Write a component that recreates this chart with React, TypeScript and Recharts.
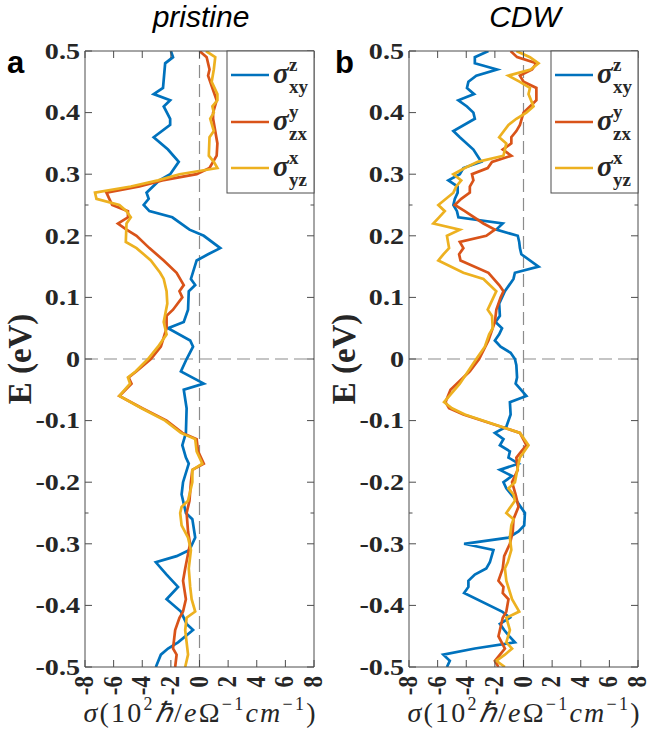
import React from 'react';
import { LineChart, Line, XAxis, YAxis, ReferenceLine } from 'recharts';

// ---------- data: [E (eV), sigma (10^2 hbar/e Ohm^-1 cm^-1)] ----------
const pristineXY: [number, number][] = [
  [0.5, -2.0], [0.49, -1.85], [0.48, -2.4], [0.44, -2.55], [0.43, -3.2], [0.42, -2.05], [0.41, -2.5],
  [0.39, -2.05], [0.38, -2.05], [0.36, -3.2], [0.34, -2.2], [0.32, -1.45], [0.3, -2.05], [0.29, -2.8],
  [0.27, -3.7], [0.26, -3.55], [0.25, -3.9], [0.24, -3.5], [0.23, -1.9], [0.21, -0.7], [0.2, 0.3],
  [0.18, 1.45], [0.17, 0.6], [0.16, -0.2], [0.13, -0.6], [0.12, -0.3], [0.11, -0.75], [0.08, -0.8],
  [0.06, -1.1], [0.05, -2.2], [0.03, -0.65], [0.02, -0.45], [0.0, -0.9], [-0.02, -1.3], [-0.04, 0.3],
  [-0.05, -1.1], [-0.08, -0.9], [-0.12, -0.95], [-0.14, -1.2], [-0.16, -0.95], [-0.17, -0.75],
  [-0.2, -1.15], [-0.22, -1.25], [-0.25, -0.95], [-0.26, -0.5], [-0.29, -0.3], [-0.31, -0.7],
  [-0.32, -1.6], [-0.33, -3.05], [-0.35, -2.3], [-0.37, -1.5], [-0.39, -2.3], [-0.41, -1.3],
  [-0.43, -0.9], [-0.44, -0.45], [-0.46, -1.5], [-0.47, -2.2], [-0.48, -2.7], [-0.5, -3.05],
];
const pristineZX: [number, number][] = [
  [0.5, 0.0], [0.49, 0.5], [0.47, 0.7], [0.46, 0.6], [0.44, 0.9], [0.42, 1.2], [0.4, 0.95], [0.39, 0.95],
  [0.37, 1.1], [0.35, 1.25], [0.33, 1.2], [0.31, 0.7], [0.3, -0.2], [0.29, -2.6], [0.28, -4.2],
  [0.27, -6.5], [0.26, -6.3], [0.25, -6.1], [0.24, -5.0], [0.23, -5.0], [0.22, -5.7], [0.21, -5.1],
  [0.2, -4.4], [0.18, -3.5], [0.16, -2.5], [0.14, -1.6], [0.12, -1.1], [0.11, -1.4], [0.1, -1.2],
  [0.08, -1.85], [0.07, -2.3], [0.05, -2.3], [0.02, -2.7], [0.0, -3.4], [-0.02, -4.4], [-0.03, -4.95],
  [-0.04, -4.75], [-0.06, -5.6], [-0.08, -4.0], [-0.1, -2.3], [-0.12, -1.2], [-0.13, -0.2],
  [-0.15, -0.1], [-0.17, 0.3], [-0.18, -0.5], [-0.2, -0.6], [-0.23, -0.7], [-0.25, -0.9], [-0.28, -0.8],
  [-0.3, -0.66], [-0.34, -1.0], [-0.36, -1.15], [-0.39, -0.95], [-0.41, -1.15], [-0.42, -1.4],
  [-0.44, -1.7], [-0.47, -1.85], [-0.48, -1.6], [-0.5, -1.7],
];
const pristineYZ: [number, number][] = [
  [0.5, 0.45], [0.49, 1.1], [0.47, 1.0], [0.45, 0.85], [0.43, 1.25], [0.42, 1.25], [0.41, 0.9], [0.4, 1.0],
  [0.39, 0.75], [0.37, 1.0], [0.36, 0.7], [0.33, 0.65], [0.32, 1.0], [0.31, 1.25], [0.3, -1.4],
  [0.29, -2.9], [0.28, -4.8], [0.27, -7.3], [0.26, -7.2], [0.25, -5.6], [0.24, -5.1], [0.23, -4.8],
  [0.22, -5.1], [0.19, -5.15], [0.18, -4.4], [0.17, -3.9], [0.16, -3.4], [0.14, -2.75], [0.13, -2.5],
  [0.11, -2.3], [0.09, -2.25], [0.06, -2.5], [0.04, -2.3], [0.02, -2.9], [0.0, -3.6], [-0.02, -4.45],
  [-0.03, -5.0], [-0.04, -4.85], [-0.06, -5.6], [-0.08, -4.05], [-0.1, -2.4], [-0.12, -1.3],
  [-0.13, -0.3], [-0.15, -0.2], [-0.17, 0.2], [-0.18, -0.5], [-0.2, -0.5], [-0.23, -0.8], [-0.24, -1.25],
  [-0.25, -1.35], [-0.27, -1.25], [-0.29, -0.8], [-0.31, -0.6], [-0.34, -0.75], [-0.37, -0.65],
  [-0.39, -0.55], [-0.41, -0.3], [-0.42, -0.9], [-0.44, -1.0], [-0.46, -0.9], [-0.48, -0.8], [-0.5, -1.0],
];

const cdwXY: [number, number][] = [
  [0.5, -2.45], [0.49, -3.4], [0.48, -3.4], [0.47, -1.85], [0.46, -3.3], [0.45, -3.85], [0.44, -3.95],
  [0.43, -3.45], [0.42, -4.55], [0.41, -3.95], [0.4, -3.5], [0.39, -3.4], [0.37, -4.9], [0.36, -4.45],
  [0.34, -3.5], [0.32, -2.95], [0.31, -4.2], [0.3, -4.45], [0.29, -5.25], [0.28, -4.6], [0.27, -4.6],
  [0.26, -4.8], [0.25, -4.9], [0.24, -4.65], [0.23, -4.55], [0.22, -1.45], [0.21, -1.9], [0.2, -0.4],
  [0.19, -0.3], [0.18, -0.25], [0.17, -0.15], [0.15, 1.05], [0.14, -0.6], [0.13, -0.7], [0.11, -1.3],
  [0.09, -1.7], [0.07, -1.65], [0.06, -1.95], [0.05, -1.5], [0.04, -1.7], [0.03, -2.0], [0.02, -1.6],
  [0.01, -0.9], [0.0, -0.6], [-0.01, -0.5], [-0.03, -0.45], [-0.04, -0.55], [-0.06, 0.2], [-0.07, -0.95],
  [-0.09, -0.9], [-0.11, -1.2], [-0.12, -2.0], [-0.13, -1.4], [-0.14, -1.65], [-0.15, -0.95],
  [-0.16, -1.05], [-0.17, -0.35], [-0.18, -1.65], [-0.19, -0.8], [-0.2, -1.4], [-0.21, -1.2],
  [-0.23, -0.5], [-0.25, 0.1], [-0.27, 0.05], [-0.28, -0.35], [-0.29, -1.05], [-0.3, -4.15],
  [-0.31, -2.1], [-0.33, -2.35], [-0.34, -2.6], [-0.35, -3.4], [-0.36, -3.85], [-0.37, -3.85],
  [-0.38, -4.15], [-0.41, -1.5], [-0.42, -0.95], [-0.43, -1.65], [-0.44, -1.35], [-0.45, -1.0],
  [-0.46, -0.6], [-0.47, -3.4], [-0.48, -5.6], [-0.49, -5.15], [-0.5, -5.35],
];
const cdwZX: [number, number][] = [
  [0.5, -0.9], [0.49, -0.45], [0.48, 0.9], [0.47, 0.6], [0.46, -0.25], [0.45, 0.0], [0.44, 0.9], [0.42, 0.9],
  [0.41, 0.45], [0.4, 0.0], [0.38, -0.25], [0.37, -0.5], [0.36, -0.85], [0.35, -0.85], [0.34, -1.45],
  [0.33, -0.85], [0.32, -2.2], [0.31, -2.5], [0.3, -3.6], [0.29, -3.5], [0.28, -3.75], [0.27, -3.75],
  [0.26, -4.35], [0.25, -4.8], [0.24, -4.1], [0.22, -2.8], [0.21, -2.0], [0.2, -2.6], [0.19, -4.45],
  [0.18, -4.2], [0.17, -4.5], [0.16, -4.4], [0.14, -2.45], [0.12, -1.7], [0.11, -1.4], [0.1, -1.6],
  [0.08, -1.9], [0.06, -2.0], [0.03, -2.45], [0.0, -3.1], [-0.02, -3.75], [-0.05, -5.1], [-0.07, -5.45],
  [-0.08, -5.2], [-0.09, -4.2], [-0.12, -0.25], [-0.14, 0.2], [-0.15, -0.15], [-0.16, -0.5],
  [-0.18, -0.4], [-0.2, -0.8], [-0.22, -0.55], [-0.24, -0.35], [-0.26, -0.7], [-0.28, -0.75],
  [-0.3, -0.95], [-0.32, -1.35], [-0.34, -1.45], [-0.36, -1.75], [-0.37, -1.4], [-0.38, -1.45],
  [-0.39, -1.05], [-0.41, -1.2], [-0.42, -1.45], [-0.45, -1.75], [-0.47, -1.3], [-0.49, -2.0], [-0.5, -1.75],
];
const cdwYZ: [number, number][] = [
  [0.5, -0.5], [0.49, 0.45], [0.48, 1.05], [0.47, 0.5], [0.46, -1.05], [0.45, -0.25], [0.44, 0.45],
  [0.43, 0.35], [0.41, 0.7], [0.4, 0.2], [0.39, -0.5], [0.38, -1.05], [0.36, -1.7], [0.35, -1.2],
  [0.33, -1.4], [0.32, -3.2], [0.31, -4.1], [0.3, -4.9], [0.29, -4.35], [0.28, -4.7], [0.27, -4.9],
  [0.25, -5.95], [0.24, -5.5], [0.23, -5.9], [0.22, -6.3], [0.21, -4.45], [0.2, -5.35], [0.18, -5.2],
  [0.17, -5.6], [0.16, -5.95], [0.14, -4.2], [0.13, -2.8], [0.11, -1.9], [0.1, -2.1], [0.08, -2.5],
  [0.07, -2.2], [0.05, -2.15], [0.04, -2.4], [0.02, -2.7], [0.0, -3.3], [-0.04, -4.45], [-0.07, -5.55],
  [-0.08, -5.0], [-0.09, -4.1], [-0.12, -0.25], [-0.14, 0.35], [-0.16, -0.25], [-0.17, -0.35],
  [-0.2, -0.6], [-0.21, -1.05], [-0.22, -0.7], [-0.23, -0.6], [-0.25, -1.2], [-0.26, -0.7],
  [-0.27, -0.85], [-0.29, -0.95], [-0.31, -0.85], [-0.33, -1.1], [-0.34, -1.3], [-0.36, -1.2],
  [-0.39, -0.8], [-0.41, -0.3], [-0.42, -1.2], [-0.44, -0.95], [-0.46, -1.2], [-0.47, -0.8],
  [-0.48, -1.3], [-0.49, -1.9], [-0.5, -1.3],
];

const xTicks = [-8, -6, -4, -2, 0, 2, 4, 6, 8];
const yTicks = [-0.5, -0.4, -0.3, -0.25, -0.2, -0.1, 0, 0.1, 0.2, 0.25, 0.3, 0.4, 0.5];
const yMinorTicks = [-0.25, 0.25];
const panelTitles = ['pristine', 'CDW'];
const panelLetters = ['a', 'b'];
const seriesColors = ['#0072BD', '#D95319', '#EDB120'];
const seriesSup = ['z', 'y', 'x'];
const seriesSub = ['xy', 'zx', 'yz'];

// ---------- layout ----------
const W = 332;
const H = 733;
// axes take 1px each, so plot area = [85..314] x [51..667]
const M = { top: 50, right: 17, bottom: 65, left: 84 };
const PL = 85;
const PR = 314;
const PT = 51;
const PB = 667;
const AXIS = '#4d4d4d';
const TXT = '#262626';
const SERIF = '"Liberation Serif", "Times New Roman", serif';
const SANS = '"Liberation Sans", Arial, sans-serif';

const toRows = (pairs: [number, number][]) => pairs.map(([E, v]) => ({ E, v }));

const isMinor = (v: number) => yMinorTicks.some((m) => Math.abs(m - v) < 1e-9);

const BottomTick = (props: any) => {
  const { x, payload } = props;
  return (
    <g>
      <line x1={x} x2={x} y1={PB} y2={PB - 7} stroke={AXIS} strokeWidth={1} />
      <text
        transform={`translate(${x + 8},${PB + 9}) rotate(-90) scale(1,1.15)`}
        textAnchor="end"
        fontFamily={SERIF}
        fontWeight="bold"
        fontSize={23}
        fill={TXT}
      >
        {String(payload.value)}
      </text>
    </g>
  );
};

const TopTick = (props: any) => {
  const { x } = props;
  return <line x1={x} x2={x} y1={PT} y2={PT + 7} stroke={AXIS} strokeWidth={1} />;
};

const LeftTick = (props: any) => {
  const { y, payload } = props;
  const v = payload.value as number;
  const minor = isMinor(v);
  return (
    <g>
      <line x1={PL} x2={PL + (minor ? 3.5 : 7)} y1={y} y2={y} stroke={AXIS} strokeWidth={1} />
      {!minor && (
        <text
          transform={`translate(${PL - 5},${y}) scale(1.25,1)`}
          dy="0.35em"
          textAnchor="end"
          fontFamily={SERIF}
          fontWeight="bold"
          fontSize={22.5}
          fill={TXT}
        >
          {v === 0 ? '0' : v.toFixed(1)}
        </text>
      )}
    </g>
  );
};

const RightTick = (props: any) => {
  const { y, payload } = props;
  const minor = isMinor(payload.value as number);
  return <line x1={PR} x2={PR - (minor ? 3.5 : 7)} y1={y} y2={y} stroke={AXIS} strokeWidth={1} />;
};

const LegendBox = () => {
  const bx = 227;
  const rows = [75, 122, 168];
  return (
    <svg width={W} height={H} style={{ position: 'absolute', left: 0, top: 0, pointerEvents: 'none' }}>
      <rect x={bx} y={PT} width={PR - bx} height={142} fill="#fff" stroke={AXIS} strokeWidth={1} />
      {rows.map((ry, i) => (
        <g key={i}>
          <line x1={bx + 4} x2={bx + 42} y1={ry} y2={ry} stroke={seriesColors[i]} strokeWidth={2.7} />
          <text x={bx + 46} y={ry + 8} fontFamily={SERIF} fontWeight="bold" fontStyle="italic" fontSize={29} fill={TXT}>
            σ
          </text>
          <text x={bx + 62} y={ry - 4} fontFamily={SERIF} fontWeight="bold" fontSize={19} fill={TXT}>
            {seriesSup[i]}
          </text>
          <text x={bx + 62} y={ry + 18} fontFamily={SERIF} fontWeight="bold" fontSize={19} fill={TXT}>
            {seriesSub[i]}
          </text>
        </g>
      ))}
    </svg>
  );
};

const Overlay = ({ title, letter, letterX }: { title: string; letter: string; letterX: number }) => (
  <svg
    width={W}
    height={H}
    style={{ position: 'absolute', left: 0, top: 0, pointerEvents: 'none', overflow: 'visible' }}
  >
    <text x={201} y={27} textAnchor="middle" fontFamily={SANS} fontStyle="italic" fontSize={30} fill="#000">
      {title}
    </text>
    <text x={letterX} y={73} fontFamily={SANS} fontWeight="bold" fontSize={31} fill="#000">
      {letter}
    </text>
    <text
      transform={`translate(31,${(PT + PB) / 2}) rotate(-90)`}
      textAnchor="middle"
      fontFamily={SERIF}
      fontWeight="bold"
      fontSize={33}
      fill={TXT}
    >
      E (eV)
    </text>
    <text
      x={(PL + PR) / 2}
      y={722}
      textAnchor="middle"
      fontFamily={SERIF}
      fontSize={28}
      fill={TXT}
      textLength={232}
      lengthAdjust="spacing"
    >
      <tspan fontStyle="italic">σ</tspan>
      <tspan>(10</tspan>
      <tspan fontSize={18} dy={-12}>2</tspan>
      <tspan dy={12} fontStyle="italic">ℏ</tspan>
      <tspan>/</tspan>
      <tspan fontStyle="italic">e</tspan>
      <tspan>Ω</tspan>
      <tspan fontSize={18} dy={-12}>−1</tspan>
      <tspan dy={12} fontStyle="italic">cm</tspan>
      <tspan fontSize={18} dy={-12}>−1</tspan>
      <tspan dy={12}>)</tspan>
    </text>
  </svg>
);

const Panel = ({ series, title, letter, letterX, left }: any) => (
  <div style={{ position: 'absolute', left, top: 0, width: W, height: H }}>
    <LineChart width={W} height={H} layout="vertical" margin={M}>
      <XAxis
        xAxisId="b"
        type="number"
        orientation="bottom"
        domain={[-8, 8]}
        ticks={xTicks}
        allowDataOverflow
        height={1}
        axisLine={{ stroke: AXIS, strokeWidth: 1 }}
        tickLine={false}
        tick={<BottomTick />}
        interval={0}
      />
      <XAxis
        xAxisId="t"
        type="number"
        orientation="top"
        domain={[-8, 8]}
        ticks={xTicks}
        allowDataOverflow
        height={1}
        axisLine={{ stroke: AXIS, strokeWidth: 1 }}
        tickLine={false}
        tick={<TopTick />}
        interval={0}
      />
      <YAxis
        yAxisId="l"
        type="number"
        dataKey="E"
        orientation="left"
        domain={[-0.5, 0.5]}
        ticks={yTicks}
        reversed
        allowDataOverflow
        width={1}
        axisLine={{ stroke: AXIS, strokeWidth: 1 }}
        tickLine={false}
        tick={<LeftTick />}
        interval={0}
      />
      <YAxis
        yAxisId="r"
        type="number"
        dataKey="E"
        orientation="right"
        domain={[-0.5, 0.5]}
        ticks={yTicks}
        reversed
        allowDataOverflow
        width={1}
        axisLine={{ stroke: AXIS, strokeWidth: 1 }}
        tickLine={false}
        tick={<RightTick />}
        interval={0}
      />
      <ReferenceLine xAxisId="b" yAxisId="l" x={0} stroke="#8c8c8c" strokeWidth={1.2} strokeDasharray="13 6" />
      <ReferenceLine xAxisId="b" yAxisId="l" y={0} stroke="#8c8c8c" strokeWidth={1.2} strokeDasharray="13 6" />
      {series.map((s: [number, number][], i: number) => (
        <Line
          key={i}
          xAxisId="b"
          yAxisId="l"
          data={toRows(s)}
          dataKey="v"
          type="linear"
          stroke={seriesColors[i]}
          strokeWidth={2.7}
          dot={false}
          activeDot={false}
          isAnimationActive={false}
        />
      ))}
    </LineChart>
    <LegendBox />
    <Overlay title={title} letter={letter} letterX={letterX} />
  </div>
);

export default function App() {
  return (
    <div style={{ position: 'absolute', left: 0, top: 0, width: 664, height: 733, background: '#fff' }}>
      <Panel series={[pristineXY, pristineZX, pristineYZ]} title={panelTitles[0]} letter={panelLetters[0]} letterX={7} left={0} />
      <Panel series={[cdwXY, cdwZX, cdwYZ]} title={panelTitles[1]} letter={panelLetters[1]} letterX={11} left={324} />
    </div>
  );
}
